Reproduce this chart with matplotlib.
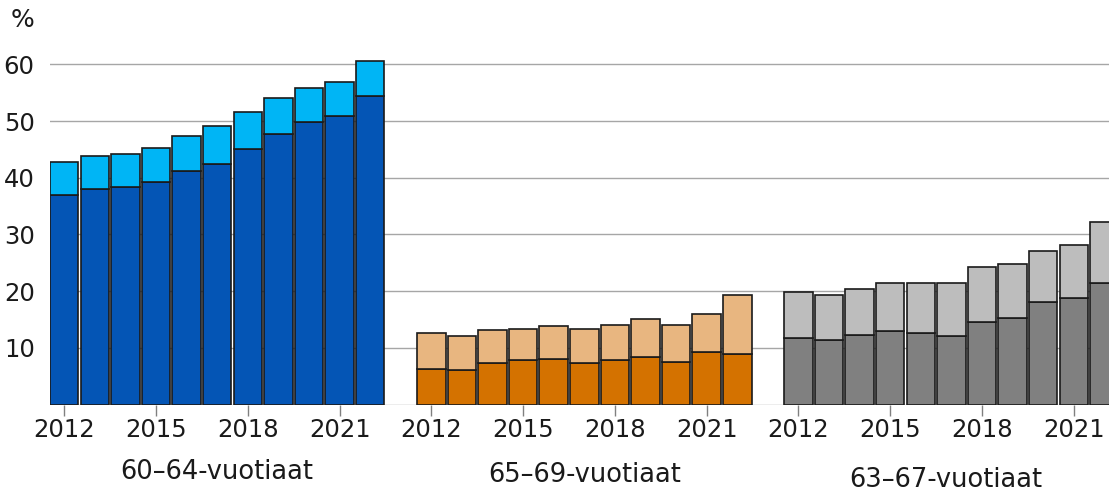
import matplotlib
matplotlib.use("Agg")
import matplotlib.pyplot as plt
import numpy as np

plt.rcParams['font.family'] = ['DejaVu Sans']

# vuodet 2012-2022
years = list(range(2012, 2023))
tick_years = [2012, 2015, 2018, 2021]
groups = ['60–64-vuotiaat', '65–69-vuotiaat', '63–67-vuotiaat']

# alempi osa ja pinon kokonaiskorkeus (%)
g1_low = [36.9, 38.0, 38.4, 39.2, 41.1, 42.5, 45.1, 47.7, 49.8, 50.9, 54.4]
g1_total = [42.8, 43.9, 44.2, 45.2, 47.4, 49.1, 51.6, 54.1, 55.9, 56.8, 60.6]
g2_low = [6.2, 6.0, 7.3, 7.8, 8.1, 7.4, 7.8, 8.4, 7.5, 9.2, 8.9]
g2_total = [12.6, 12.1, 13.1, 13.4, 13.8, 13.4, 14.0, 15.0, 14.0, 16.0, 19.4]
g3_low = [11.7, 11.3, 12.3, 13.0, 12.7, 12.1, 14.6, 15.3, 18.0, 18.8, 21.5]
g3_total = [19.8, 19.4, 20.4, 21.4, 21.4, 21.4, 24.2, 24.7, 27.1, 28.1, 32.2]

lows = [g1_low, g2_low, g3_low]
totals = [g1_total, g2_total, g3_total]
dark_cols = ['#0455B5', '#D47200', '#808080']
light_cols = ['#00B5F5', '#E8B680', '#BDBDBD']

fig = plt.figure(figsize=(11.09, 4.92), dpi=100)
ax = fig.add_axes([50 / 1109, 87.5 / 492, 1 - 50 / 1109, 368.5 / 492])

n = len(years)
width = 0.93
xticks = []
xlabels = []
for g in range(3):
    offset = g * (n + 1)
    x = np.arange(n) + offset
    low = np.array(lows[g])
    top = np.array(totals[g]) - low
    ax.bar(x, low, width, color=dark_cols[g], edgecolor='#1a1a1a', linewidth=1.2, zorder=3)
    ax.bar(x, top, width, bottom=low, color=light_cols[g], edgecolor='#1a1a1a', linewidth=1.2, zorder=3)
    for ty in tick_years:
        xticks.append(offset + years.index(ty))
        xlabels.append(str(ty))

ax.set_xlim(-0.465, 34.15)
ax.set_ylim(0, 65)
ax.set_yticks(range(0, 70, 10))
ax.set_yticklabels([''] + [str(v) for v in range(10, 70, 10)])
ax.set_xticks(xticks)
ax.set_xticklabels(xlabels)
ax.tick_params(axis='y', length=0, pad=11, labelsize=17.5, labelcolor='#1a1a1a')
ax.tick_params(axis='x', length=8, width=1, color='#808080', pad=2, labelsize=17.5, labelcolor='#1a1a1a')
ax.grid(axis='y', color='#A6A6A6', linewidth=1, zorder=0)
for s in ax.spines.values():
    s.set_visible(False)

# ryhmien nimet
group_x = [5, 17, 28.8]
group_y = [-0.183, -0.19, -0.205]
for g in range(3):
    ax.text(group_x[g], group_y[g], groups[g], transform=ax.get_xaxis_transform(),
            ha='center', va='center', fontsize=18.5, color='#1a1a1a')

fig.text(22 / 1109, 1 - 20 / 492, '%', ha='center', va='center', fontsize=18, color='#1a1a1a')

fig.savefig('out.png', dpi=100)
